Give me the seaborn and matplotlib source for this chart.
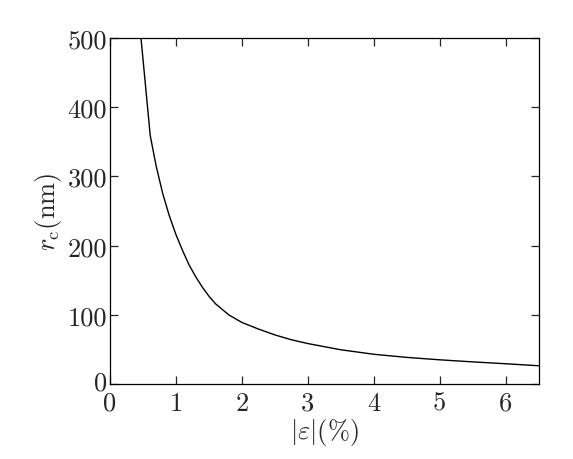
import matplotlib
matplotlib.use("Agg")
import matplotlib.pyplot as plt
import matplotlib.transforms as mtransforms
import seaborn as sns
import pandas as pd

# -----------------------------------
# DATA
# -----------------------------------
strain = [0.45, 0.61, 0.7, 0.8, 0.9, 1.0, 1.1, 1.2, 1.3, 1.4, 1.5, 1.6, 1.8,
          2.0, 2.25, 2.5, 2.75, 3.0, 3.5, 4.0, 4.5, 5.0, 5.5, 6.0, 6.5]
r_c = [520, 359, 315, 275, 243, 216, 193, 172, 155, 140, 127, 116, 100,
       89, 79.5, 71, 64, 58.5, 49.5, 43, 38.5, 35, 32, 29.3, 26.4]

x_ticks = [0, 1, 2, 3, 4, 5, 6]
y_ticks = [0, 100, 200, 300, 400, 500]

df = pd.DataFrame({"strain": strain, "r_c": r_c})

# SET STYLE
sns.set_style("ticks")
plt.rcParams["font.family"] = "serif"
plt.rcParams["font.serif"] = ["cmr10", "DejaVu Serif"]
plt.rcParams["mathtext.fontset"] = "cm"
plt.rcParams["axes.formatter.use_mathtext"] = True

fig = plt.figure(figsize=(5.73, 4.6), dpi=100)
ax = fig.add_axes([0.192, 0.163, 0.748, 0.752])

sns.lineplot(x="strain", y="r_c", data=df, color="black", linewidth=1.0, ax=ax)

ax.set_xlim(0, 6.5)
ax.set_ylim(0, 500)
ax.set_xticks(x_ticks)
ax.set_xticklabels([str(t) for t in x_ticks])
ax.set_yticks(y_ticks)
ax.set_yticklabels([str(t) for t in y_ticks])

ax.tick_params(direction="in", length=6, width=0.9, labelsize=19,
               top=True, right=True)
ax.tick_params(axis="x", pad=5)
ax.tick_params(axis="y", pad=2)
for s in ax.spines.values():
    s.set_linewidth(0.9)
    s.set_color("black")

# lift the y "0" a little so it sits clear of the x "0"
lbl0 = ax.get_yticklabels()[0]
lbl0.set_transform(lbl0.get_transform() +
                   mtransforms.ScaledTranslation(0, 3 / 72, fig.dpi_scale_trans))

ax.set_xlabel(r"$|\varepsilon|(\%)$", fontsize=19, labelpad=1)
ax.set_ylabel(r"$r_{\rm c}(\rm nm)$", fontsize=19, labelpad=3)

fig.savefig("out.png", dpi=100)
